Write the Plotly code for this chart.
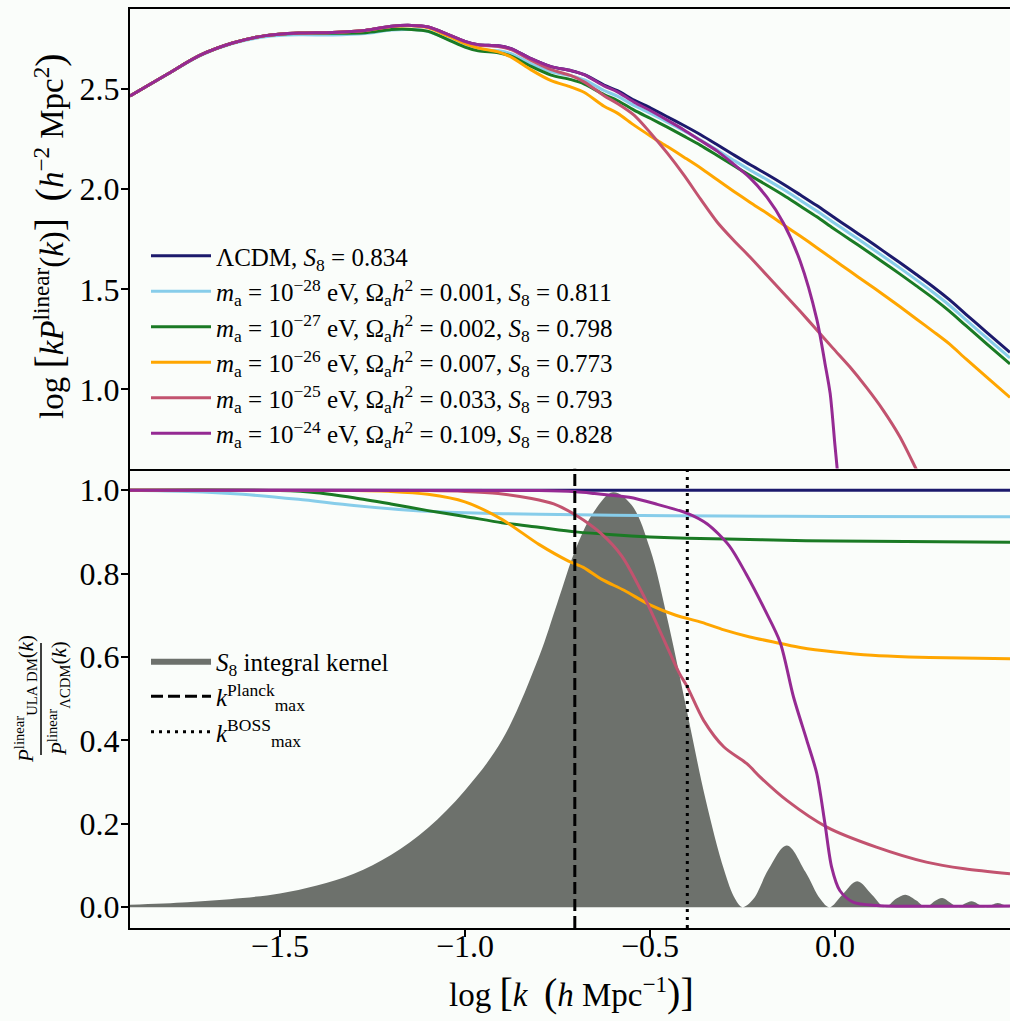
import plotly.graph_objects as go
from plotly.subplots import make_subplots

# ---------------- data ----------------
X_MIN, X_MAX = -1.905, 0.473
Y1_MIN, Y1_MAX = 0.605, 2.90
Y2_MIN, Y2_MAX = -0.05, 1.052

SP = "\u00a0"
LABELS = [
    f"ΛCDM,{SP}<i>S</i><sub>8</sub>{SP}={SP}0.834",
    f"<i>m</i><sub>a</sub>{SP}={SP}10<sup>−28</sup>{SP}eV,{SP}Ω<sub>a</sub><i>h</i><sup>2</sup>{SP}={SP}0.001,{SP}<i>S</i><sub>8</sub>{SP}={SP}0.811",
    f"<i>m</i><sub>a</sub>{SP}={SP}10<sup>−27</sup>{SP}eV,{SP}Ω<sub>a</sub><i>h</i><sup>2</sup>{SP}={SP}0.002,{SP}<i>S</i><sub>8</sub>{SP}={SP}0.798",
    f"<i>m</i><sub>a</sub>{SP}={SP}10<sup>−26</sup>{SP}eV,{SP}Ω<sub>a</sub><i>h</i><sup>2</sup>{SP}={SP}0.007,{SP}<i>S</i><sub>8</sub>{SP}={SP}0.773",
    f"<i>m</i><sub>a</sub>{SP}={SP}10<sup>−25</sup>{SP}eV,{SP}Ω<sub>a</sub><i>h</i><sup>2</sup>{SP}={SP}0.033,{SP}<i>S</i><sub>8</sub>{SP}={SP}0.793",
    f"<i>m</i><sub>a</sub>{SP}={SP}10<sup>−24</sup>{SP}eV,{SP}Ω<sub>a</sub><i>h</i><sup>2</sup>{SP}={SP}0.109,{SP}<i>S</i><sub>8</sub>{SP}={SP}0.828",
]
COLORS = ["#1c1a6c", "#87cdea", "#1a7a24", "#ffa600", "#c2536f", "#952a93"]

# top panel: log[k P(k)]
XT = [-1.905, -1.808, -1.718, -1.628, -1.539, -1.449, -1.359, -1.27, -1.198, -1.144,
      -1.099, -1.045, -1.0, -0.964, -0.91, -0.875, -0.821, -0.767, -0.713, -0.677,
      -0.624, -0.588, -0.543, -0.498, -0.453, -0.408, -0.363, -0.318, -0.274, -0.229,
      -0.184, -0.139, -0.094, -0.049, -0.005, 0.04, 0.085, 0.13, 0.175, 0.22,
      0.265, 0.31, 0.354, 0.41, 0.473]
TOP_LCDM = [2.466, 2.570, 2.667, 2.730, 2.767, 2.780, 2.783, 2.793, 2.814, 2.818,
            2.810, 2.772, 2.738, 2.722, 2.716, 2.702, 2.652, 2.612, 2.592, 2.572,
            2.520, 2.492, 2.445, 2.405, 2.362, 2.318, 2.272, 2.222, 2.172, 2.122,
            2.075, 2.025, 1.972, 1.918, 1.862, 1.806, 1.750, 1.692, 1.634, 1.574,
            1.513, 1.447, 1.375, 1.285, 1.185]
TOP_M28 = [2.466, 2.569, 2.665, 2.727, 2.761, 2.771, 2.770, 2.777, 2.795, 2.797,
           2.788, 2.749, 2.714, 2.697, 2.691, 2.677, 2.626, 2.586, 2.566, 2.546,
           2.493, 2.465, 2.418, 2.378, 2.335, 2.291, 2.245, 2.195, 2.145, 2.095,
           2.048, 1.998, 1.945, 1.891, 1.835, 1.779, 1.723, 1.665, 1.607, 1.547,
           1.485, 1.419, 1.347, 1.257, 1.157]
TOP_M27 = [2.466, 2.570, 2.667, 2.730, 2.767, 2.779, 2.779, 2.782, 2.798, 2.798,
           2.788, 2.746, 2.710, 2.691, 2.682, 2.665, 2.613, 2.570, 2.547, 2.525,
           2.472, 2.443, 2.395, 2.353, 2.310, 2.265, 2.219, 2.168, 2.118, 2.068,
           2.020, 1.970, 1.916, 1.862, 1.805, 1.749, 1.693, 1.635, 1.577, 1.517,
           1.456, 1.390, 1.318, 1.228, 1.127]
TOP_M26 = [2.466, 2.570, 2.667, 2.730, 2.767, 2.780, 2.783, 2.793, 2.813, 2.816,
           2.806, 2.764, 2.727, 2.705, 2.686, 2.660, 2.596, 2.542, 2.510, 2.483,
           2.414, 2.380, 2.320, 2.265, 2.213, 2.160, 2.106, 2.047, 1.990, 1.934,
           1.880, 1.822, 1.766, 1.708, 1.650, 1.591, 1.533, 1.474, 1.414, 1.352,
           1.290, 1.226, 1.152, 1.061, 0.960]
XT_M25 = [-1.905, -1.808, -1.718, -1.628, -1.539, -1.449, -1.359, -1.27, -1.198, -1.144,
          -1.099, -1.045, -1.0, -0.964, -0.91, -0.875, -0.821, -0.767, -0.713, -0.677,
          -0.624, -0.588, -0.543, -0.498, -0.453, -0.408, -0.363, -0.318, -0.274, -0.229,
          -0.184, -0.139, -0.094, -0.049, -0.005, 0.04, 0.085, 0.13, 0.175, 0.22, 0.265]
TOP_M25 = [2.466, 2.570, 2.667, 2.730, 2.767, 2.780, 2.783, 2.793, 2.814, 2.818,
           2.810, 2.772, 2.737, 2.720, 2.713, 2.697, 2.643, 2.597, 2.567, 2.535,
           2.467, 2.428, 2.370, 2.280, 2.180, 2.070, 1.950, 1.835, 1.745, 1.660,
           1.570, 1.480, 1.390, 1.297, 1.205, 1.113, 1.010, 0.897, 0.765, 0.600, 0.430]
XT_M24 = [-1.905, -1.808, -1.718, -1.628, -1.539, -1.449, -1.359, -1.27, -1.198, -1.144,
          -1.099, -1.045, -1.0, -0.964, -0.91, -0.875, -0.821, -0.767, -0.713, -0.677,
          -0.624, -0.588, -0.543, -0.498, -0.453, -0.408, -0.363, -0.318, -0.274, -0.229,
          -0.184, -0.139, -0.094, -0.049, -0.027, -0.013, 0.0, 0.006, 0.015]
TOP_M24 = [2.466, 2.570, 2.667, 2.730, 2.767, 2.780, 2.783, 2.793, 2.814, 2.818,
           2.810, 2.772, 2.738, 2.722, 2.716, 2.702, 2.652, 2.612, 2.592, 2.571,
           2.516, 2.486, 2.435, 2.392, 2.345, 2.296, 2.243, 2.190, 2.125, 2.055,
           1.960, 1.830, 1.640, 1.350, 1.130, 0.980, 0.720, 0.605, 0.400]

# bottom panel: ratio P_ULA / P_LCDM
R_LCDM_X = [-1.905, 0.473]
R_LCDM_Y = [1.0, 1.0]
R_M28_X = [-1.905, -1.75, -1.6, -1.45, -1.3, -1.15, -1.0, -0.8, -0.6, -0.3, 0.0, 0.473]
R_M28_Y = [1.0, 0.997, 0.99, 0.978, 0.963, 0.952, 0.946, 0.942, 0.940, 0.938, 0.937, 0.936]
R_M27_X = [-1.905, -1.5, -1.4, -1.3, -1.2, -1.1, -1.0, -0.9, -0.8, -0.7, -0.6, -0.5,
           -0.4, -0.2, 0.0, 0.473]
R_M27_Y = [1.0, 0.999, 0.994, 0.982, 0.967, 0.951, 0.937, 0.922, 0.911, 0.900, 0.893,
           0.888, 0.885, 0.881, 0.878, 0.875]
R_M26_X = [-1.905, -1.3, -1.2, -1.1, -1.0, -0.9, -0.8, -0.72, -0.68, -0.63, -0.57, -0.5,
           -0.43, -0.36, -0.3, -0.23, -0.15, -0.09, 0.0, 0.1, 0.2, 0.3, 0.473]
R_M26_Y = [1.0, 0.999, 0.997, 0.99, 0.972, 0.93, 0.87, 0.83, 0.815, 0.786, 0.76, 0.725,
           0.70, 0.683, 0.665, 0.648, 0.633, 0.622, 0.612, 0.604, 0.600, 0.598, 0.596]
R_M25_X = [-1.905, -1.1, -1.0, -0.91, -0.82, -0.76, -0.7, -0.633, -0.576, -0.517, -0.46,
           -0.42, -0.4, -0.355, -0.3, -0.238, -0.202, -0.13, -0.022, 0.112, 0.247, 0.35, 0.473]
R_M25_Y = [1.0, 0.999, 0.997, 0.992, 0.98, 0.967, 0.94, 0.897, 0.842, 0.747, 0.637,
           0.56, 0.53, 0.448, 0.384, 0.344, 0.312, 0.256, 0.192, 0.144, 0.108, 0.092, 0.08]
R_M24_X = [-1.905, -0.8, -0.7, -0.65, -0.556, -0.48, -0.397, -0.345, -0.286, -0.24, -0.19,
           -0.148, -0.112, -0.076, -0.049, -0.027, -0.009, 0.013, 0.049, 0.112, 0.473]
R_M24_Y = [1.0, 0.999, 0.996, 0.992, 0.983, 0.966, 0.944, 0.919, 0.867, 0.799, 0.714,
           0.635, 0.504, 0.40, 0.32, 0.20, 0.096, 0.04, 0.012, 0.004, 0.003]

KERNEL_X = [-1.905, -1.75, -1.6, -1.5, -1.4, -1.3, -1.2, -1.1, -1.0, -0.9, -0.8, -0.75,
            -0.7, -0.65, -0.6, -0.55, -0.5, -0.45, -0.4, -0.35, -0.3, -0.27, -0.25, -0.22,
            -0.18, -0.13, -0.08, -0.04, -0.015, 0.02, 0.06, 0.1, 0.135, 0.165, 0.19, 0.22,
            0.245, 0.27, 0.29, 0.31, 0.333, 0.35, 0.37, 0.39, 0.407, 0.425, 0.44, 0.455, 0.473]
KERNEL_Y = [0.006, 0.012, 0.022, 0.033, 0.052, 0.080, 0.125, 0.19, 0.28, 0.40, 0.60, 0.73,
            0.86, 0.95, 0.995, 0.965, 0.86, 0.68, 0.47, 0.26, 0.09, 0.02, 0.0, 0.02,
            0.09, 0.148, 0.085, 0.02, 0.0, 0.03, 0.062, 0.03, 0.0, 0.02, 0.030, 0.016,
            0.0, 0.015, 0.022, 0.012, 0.0, 0.008, 0.014, 0.006, 0.0, 0.006, 0.010, 0.006, 0.0]

LOGK_PLANCK = -0.703
LOGK_BOSS = -0.399

X_TICKS = [-1.5, -1.0, -0.5, 0.0]
Y1_TICKS = [1.0, 1.5, 2.0, 2.5]
Y2_TICKS = [0.0, 0.2, 0.4, 0.6, 0.8, 1.0]

# ---------------- figure ----------------
FONT = "Liberation Serif"
fig = make_subplots(rows=2, cols=1, shared_xaxes=True, vertical_spacing=0)

fig.add_trace(go.Scatter(x=KERNEL_X, y=KERNEL_Y, mode="lines", fill="tozeroy",
                         fillcolor="#6d716c",
                         line=dict(color="#6d716c", width=0, shape="spline", smoothing=1.0),
                         name=f"<i>S</i><sub>8</sub>{SP}integral{SP}kernel", legend="legend2",
                         legendgroup="k"), row=2, col=1)

top_x = [XT, XT, XT, XT, XT_M25, XT_M24]
top_y = [TOP_LCDM, TOP_M28, TOP_M27, TOP_M26, TOP_M25, TOP_M24]
bot_x = [R_LCDM_X, R_M28_X, R_M27_X, R_M26_X, R_M25_X, R_M24_X]
bot_y = [R_LCDM_Y, R_M28_Y, R_M27_Y, R_M26_Y, R_M25_Y, R_M24_Y]

for i in range(6):
    fig.add_trace(go.Scatter(x=top_x[i], y=top_y[i], mode="lines", name=LABELS[i],
                             line=dict(color=COLORS[i], width=3, shape="spline", smoothing=0.8),
                             legend="legend", legendgroup=f"g{i}"), row=1, col=1)

for i in range(6):
    fig.add_trace(go.Scatter(x=bot_x[i], y=bot_y[i], mode="lines", showlegend=False,
                             line=dict(color=COLORS[i], width=3, shape="spline", smoothing=0.8)),
                  row=2, col=1)

fig.add_trace(go.Scatter(x=[LOGK_PLANCK, LOGK_PLANCK], y=[Y2_MIN, Y2_MAX], mode="lines",
                         line=dict(color="black", width=3, dash="12px,5px"),
                         name="<i>k</i><sup>Planck</sup><sub>max</sub>", legend="legend2",
                         legendgroup="p"), row=2, col=1)
fig.add_trace(go.Scatter(x=[LOGK_BOSS, LOGK_BOSS], y=[Y2_MIN, Y2_MAX], mode="lines",
                         line=dict(color="black", width=3, dash="3px,5px"),
                         name="<i>k</i><sup>BOSS</sup><sub>max</sub>", legend="legend2",
                         legendgroup="b"), row=2, col=1)

axis_common = dict(showline=True, linecolor="black", linewidth=2, showgrid=False,
                   zeroline=False, ticks="outside", ticklen=7, tickwidth=2, tickcolor="black",
                   tickfont=dict(family=FONT, size=32, color="black"))

fig.update_xaxes(range=[X_MIN, X_MAX], tickvals=X_TICKS, tickformat=".1f", **axis_common)
fig.update_xaxes(ticks="", mirror=True, row=1, col=1)
fig.update_xaxes(mirror=False, ticklabelstandoff=-18, row=2, col=1)
fig.update_yaxes(ticklabelstandoff=-5, **axis_common)
fig.update_yaxes(range=[Y1_MIN, Y1_MAX], tickvals=Y1_TICKS, tickformat=".1f", row=1, col=1)
fig.update_yaxes(range=[Y2_MIN, Y2_MAX], tickvals=Y2_TICKS, tickformat=".1f", row=2, col=1)

W, H = 1010, 1021
ML, MR, MT, MB = 130, 0, 9, 93
PW, PH = W - ML - MR, H - MT - MB


def px(xp):
    return (xp - ML) / PW


def py(yp):
    return (H - MB - yp) / PH


BIG = '<span style="font-size:40px">'
fig.update_layout(
    width=W, height=H,
    margin=dict(l=ML, r=MR, t=MT, b=MB),
    paper_bgcolor="#fafdfa", plot_bgcolor="#fafdfa",
    font=dict(family=FONT, color="black"),
    legend=dict(x=px(146), y=py(233), xanchor="left", yanchor="top",
                bgcolor="rgba(0,0,0,0)", font=dict(family=FONT, size=25),
                tracegroupgap=0, traceorder="grouped", itemwidth=60),
    legend2=dict(x=px(146), y=py(638), xanchor="left", yanchor="top",
                 bgcolor="rgba(0,0,0,0)", font=dict(family=FONT, size=25),
                 tracegroupgap=0, traceorder="grouped", itemwidth=60),
    annotations=[
        dict(text=f"log{SP}{BIG}[</span><i>kP</i><sup>linear</sup>(<i>k</i>){BIG}]</span>{SP}{SP}{BIG}(</span><i>h</i><sup>−2</sup>{SP}Mpc<sup>2</sup>{BIG})</span>",
             x=px(50), y=py(236), xref="paper", yref="paper", textangle=-90,
             showarrow=False, font=dict(family=FONT, size=33, color="black"),
             xanchor="center", yanchor="middle"),
        dict(text=f"<i>P</i><sup>linear</sup><sub>ULA{SP}DM</sub>(<i>k</i>)",
             x=px(25), y=py(699), xref="paper", yref="paper", textangle=-90,
             showarrow=False, font=dict(family=FONT, size=21, color="black"),
             xanchor="center", yanchor="middle"),
        dict(text="<i>P</i><sup>linear</sup><sub>ΛCDM</sub>(<i>k</i>)",
             x=px(58), y=py(699), xref="paper", yref="paper", textangle=-90,
             showarrow=False, font=dict(family=FONT, size=21, color="black"),
             xanchor="center", yanchor="middle"),
        dict(text=f"log{SP}{BIG}[</span><i>k</i>{SP}{SP}{BIG}(</span><i>h</i>{SP}Mpc<sup>−1</sup>{BIG})</span>{BIG}]</span>",
             x=px(571), y=py(993), xref="paper", yref="paper",
             showarrow=False, font=dict(family=FONT, size=33, color="black"),
             xanchor="center", yanchor="middle"),
    ],
    shapes=[dict(type="line", xref="paper", yref="paper", x0=px(41), x1=px(41),
                 y0=py(643), y1=py(755), line=dict(color="black", width=1.5))],
)

fig.write_html("out.html")
